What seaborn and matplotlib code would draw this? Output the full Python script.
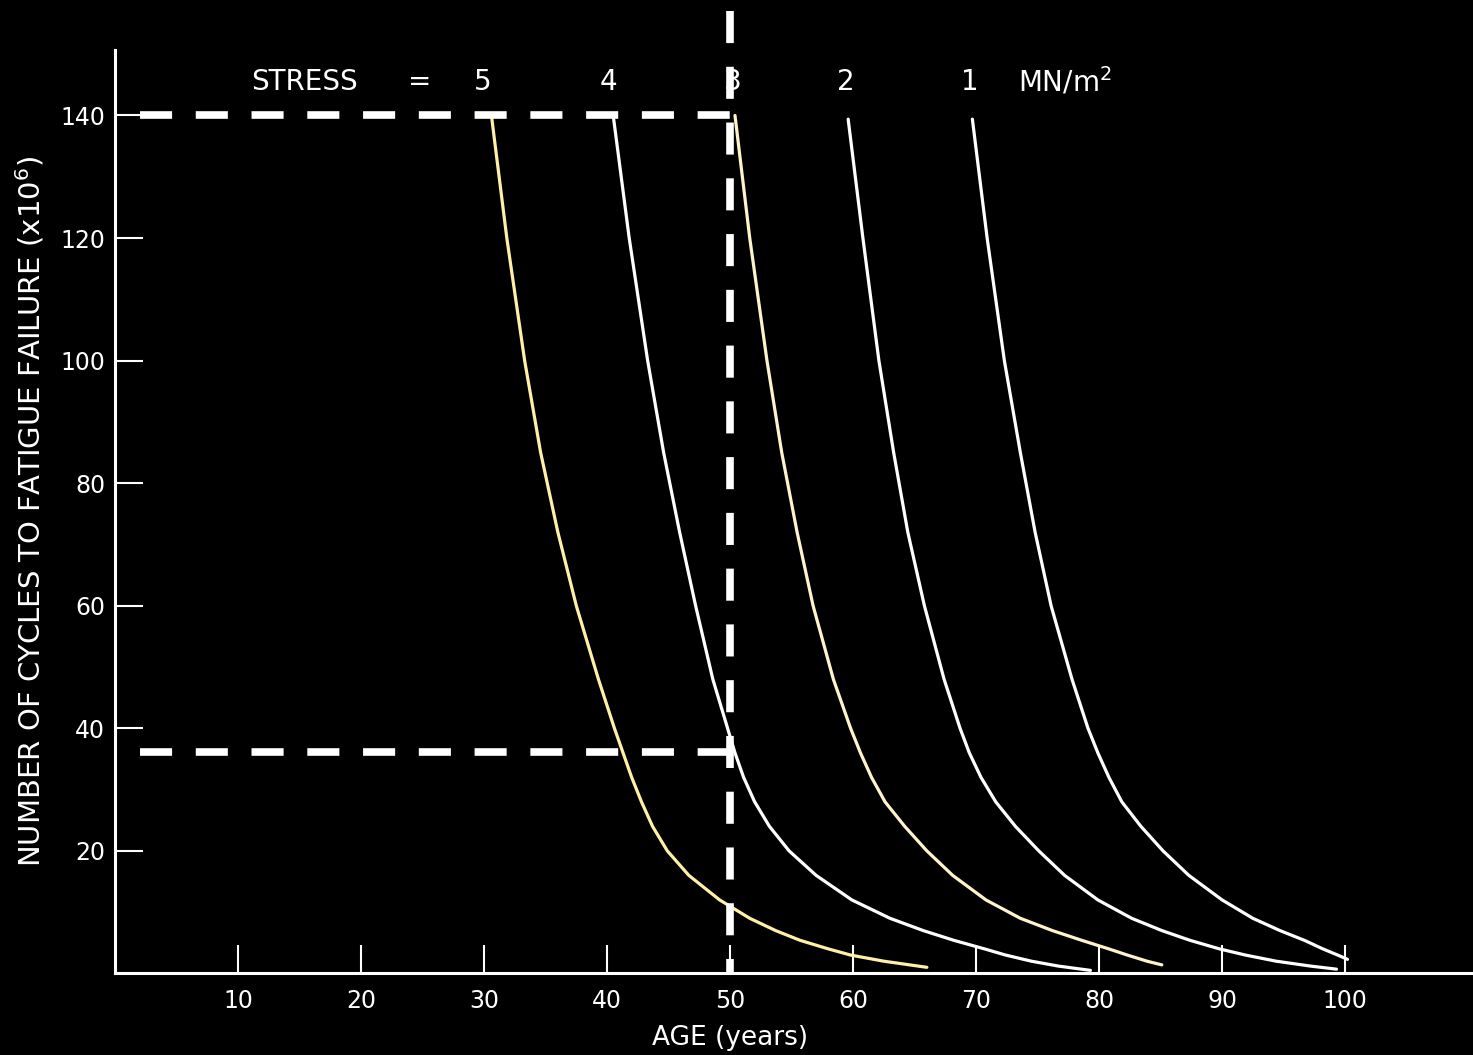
import numpy as np
import pandas as pd
import matplotlib
matplotlib.use("Agg")
import matplotlib.pyplot as plt
import seaborn as sns

# values: age (years) -> cycles to fatigue failure (x10^6)
age_5 = [30.6, 31.85, 33.3, 34.6, 36.0, 37.5, 39.3, 40.6, 41.3, 42.0, 42.8, 43.7,
         44.9, 46.65, 49.15, 51.6, 53.7, 55.7, 58.0, 59.8, 62.5, 66.0]
cyc_5 = [140, 120, 100, 85, 72, 60, 48, 40, 36, 32, 28, 24,
         20, 16, 12, 9, 7, 5.4, 4, 3, 2, 1.0]

age_4 = [40.5, 41.8, 43.3, 44.6, 45.9, 47.2, 48.6, 49.8, 50.4, 51.1, 52.0, 53.2,
         54.8, 57.0, 59.9, 63.0, 65.7, 68.2, 70.7, 72.4, 74.5, 76.7, 79.3]
cyc_4 = [140, 120, 100, 85, 72, 60, 48, 40, 36, 32, 28, 24,
         20, 16, 12, 9, 7, 5.4, 4, 3, 2, 1.2, 0.5]

age_3 = [50.4, 51.6, 53.0, 54.2, 55.45, 56.75, 58.4, 59.8, 60.6, 61.5, 62.6, 64.2,
         66.0, 68.1, 70.8, 73.6, 76.2, 78.6, 80.8, 82.3, 83.9, 85.1]
cyc_3 = [140, 120, 100, 85, 72, 60, 48, 40, 36, 32, 28, 24,
         20, 16, 12, 9, 7, 5.4, 4, 3, 2, 1.4]

age_2 = [59.6, 60.8, 62.1, 63.3, 64.45, 65.8, 67.4, 68.7, 69.45, 70.4, 71.6, 73.2,
         75.1, 77.2, 79.9, 82.65, 85.1, 87.4, 89.8, 91.9, 94.4, 97.2, 99.3]
cyc_2 = [139.4, 120, 100, 85, 72, 60, 48, 40, 36, 32, 28, 24,
         20, 16, 12, 9, 7, 5.4, 4, 3, 2, 1.2, 0.7]

age_1 = [69.7, 70.9, 72.3, 73.6, 74.8, 76.1, 77.8, 79.1, 79.9, 80.8, 81.85, 83.4,
         85.2, 87.3, 90.0, 92.5, 94.7, 96.7, 98.2, 99.4, 100.2]
cyc_1 = [139.4, 120, 100, 85, 72, 60, 48, 40, 36, 32, 28, 24,
         20, 16, 12, 9, 7, 5.4, 4, 3, 2.3]

stress = ['5', '4', '3', '2', '1']
stress_x = [29.9, 40.1, 50.2, 59.4, 69.5]
x_ticks = [10, 20, 30, 40, 50, 60, 70, 80, 90, 100]
y_ticks = [20, 40, 60, 80, 100, 120, 140]
guide_age = 50
guide_cycles = [140, 36.2]

curve_colors = {'5': '#fff0a8', '4': 'white', '3': '#fff3cc', '2': 'white', '1': 'white'}

sns.set_theme(style="ticks")
plt.rcParams['font.family'] = ['DejaVu Sans']

df = pd.concat([
    pd.DataFrame({'age': a, 'cycles': c, 'stress': s})
    for a, c, s in zip([age_5, age_4, age_3, age_2, age_1],
                       [cyc_5, cyc_4, cyc_3, cyc_2, cyc_1], stress)
])

fig = plt.figure(figsize=(14.73, 10.55), dpi=100, facecolor='black')
ax = fig.add_axes([0.0781, 0.0773, 0.9219, 0.8754])
ax.set_facecolor('black')

sns.lineplot(data=df, x='age', y='cycles', hue='stress', palette=curve_colors,
             sort=False, estimator=None, legend=False, linewidth=2.3, ax=ax)

# dashed guide lines
for yv in guide_cycles:
    ax.plot([2, guide_age + 0.3], [yv, yv], color='white', lw=5.5,
            dashes=(4.2, 3.1), dash_capstyle='butt')
ax.plot([guide_age, guide_age], [157, 0], color='white', lw=5.5,
        dashes=(4.2, 3.1), dash_capstyle='butt', clip_on=False)

ax.set_xlim(0, 110.4)
ax.set_ylim(0, 150.7)
ax.set_xticks(x_ticks)
ax.set_yticks(y_ticks)

sns.despine(ax=ax)
for side in ['left', 'bottom']:
    ax.spines[side].set_color('white')
    ax.spines[side].set_linewidth(2.2)

ax.tick_params(axis='both', direction='in', length=20, width=1.5,
               colors='white', labelsize=17)
ax.tick_params(axis='x', pad=11)
ax.tick_params(axis='y', pad=7)

ax.set_xlabel('AGE (years)', color='white', fontsize=19)
ax.xaxis.set_label_coords(guide_age / 110.4, -0.056)
ax.set_ylabel('NUMBER OF CYCLES TO FATIGUE FAILURE (x10$^6$)', color='white',
              fontsize=21, labelpad=10)

# stress annotation across the top
ax.text(15.4, 145.5, 'STRESS', color='white', fontsize=20, ha='center', va='center')
ax.text(24.8, 145.5, '=', color='white', fontsize=20, ha='center', va='center')
for s, xs in zip(stress, stress_x):
    ax.text(xs, 145.5, s, color='white', fontsize=20, ha='center', va='center')
ax.text(73.4, 145.5, 'MN/m$^2$', color='white', fontsize=20, ha='left', va='center')

fig.savefig('out.png', dpi=100, facecolor='black')
